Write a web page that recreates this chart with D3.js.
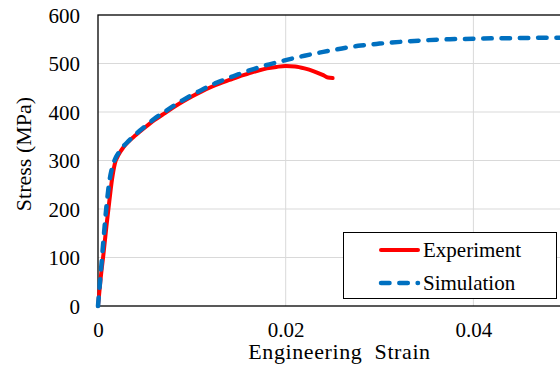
<!DOCTYPE html>
<html>
<head>
<meta charset="utf-8">
<script src="https://cdn.jsdelivr.net/npm/d3@7"></script>
<style>
  html, body { margin: 0; padding: 0; background: #fff; }
  svg { display: block; }
  svg text { font-family: "Liberation Serif", "Times New Roman", serif !important; fill: #000; }
</style>
</head>
<body>
<svg id="chart" width="560" height="369"></svg>
<script>
// Engineering stress–strain: tensile test vs. simulation
const experimentStrain = [0, 0.0003, 0.0006, 0.0009, 0.0012, 0.0015, 0.0018, 0.0022, 0.0027, 0.0033, 0.0040, 0.0050, 0.0060, 0.0070, 0.0080, 0.0090, 0.0100, 0.0110, 0.0120, 0.0130, 0.0140, 0.0150, 0.0160, 0.0170, 0.0180, 0.0190, 0.0200, 0.0210, 0.0220, 0.0230, 0.0240, 0.0245, 0.0250];
const experimentStress = [0, 60, 110, 165, 215, 262, 294, 312, 327, 340, 352, 368, 383, 396, 409, 421, 432, 442, 451, 459, 466, 473, 479, 485, 490, 493, 495, 494, 490, 484, 476, 471, 470];

const simulationStrain = [0, 0.0003, 0.0006, 0.0009, 0.0012, 0.0015, 0.0018, 0.0022, 0.0027, 0.0033, 0.0040, 0.0050, 0.0060, 0.0070, 0.0080, 0.0090, 0.0100, 0.0110, 0.0120, 0.0130, 0.0140, 0.0150, 0.0160, 0.0170, 0.0180, 0.0190, 0.0200, 0.0220, 0.0240, 0.0260, 0.0280, 0.0300, 0.0325, 0.0350, 0.0375, 0.0400, 0.0425, 0.0450, 0.0475, 0.0500];
const simulationStress = [0, 70, 140, 205, 255, 285, 302, 316, 329, 341, 354, 370, 386, 399, 412, 424, 435, 445, 455, 463, 471, 478, 485, 491, 497, 502, 507, 516, 524, 531, 537, 541, 545, 548, 550, 551, 552, 552.5, 553, 553];

const xTicks = [0, 0.02, 0.04];
const xTickLabels = ["0", "0.02", "0.04"];
const yTicks = [0, 100, 200, 300, 400, 500, 600];
const seriesNames = ["Experiment", "Simulation"];
const axisTitles = { x: "Engineering  Strain", y: "Stress (MPa)" };

const FONT = '"Liberation Serif", "Times New Roman", serif';
const svg = d3.select("#chart");
const margin = { left: 98, top: 15, bottom: 306 };
const pxPerUnit = 187.7 / 0.02;

const x = d3.scaleLinear().domain([0, 0.05]).range([margin.left, margin.left + 0.05 * pxPerUnit]);
const y = d3.scaleLinear().domain([0, 600]).range([margin.bottom, margin.top]);

// gridlines
svg.append("g").selectAll("line").data(yTicks.filter(d => d > 0 && d < 600)).join("line")
  .attr("x1", x(0)).attr("x2", x(0.05)).attr("y1", d => y(d)).attr("y2", d => y(d))
  .attr("stroke", "#d9d9d9").attr("stroke-width", 1);
svg.append("g").selectAll("line").data(xTicks.filter(d => d > 0)).join("line")
  .attr("x1", d => x(d)).attr("x2", d => x(d)).attr("y1", y(0)).attr("y2", y(600))
  .attr("stroke", "#d9d9d9").attr("stroke-width", 1);

// plot frame
svg.append("rect")
  .attr("x", x(0)).attr("y", y(600)).attr("width", x(0.05) - x(0)).attr("height", y(0) - y(600))
  .attr("fill", "none").attr("stroke", "#000").attr("stroke-width", 1.3);

// axes (labels only; the frame supplies the lines)
const yAxis = d3.axisLeft(y).tickValues(yTicks).tickSize(0).tickPadding(18);
const yg = svg.append("g").attr("transform", `translate(${x(0)},0)`).call(yAxis)
  .attr("font-family", null).attr("font-size", null);
yg.select(".domain").remove();
yg.selectAll("text").style("font-family", FONT).style("font-size", "21px").attr("dy", "0.35em");

const xAxis = d3.axisBottom(x).tickValues(xTicks).tickFormat((d, i) => xTickLabels[i]).tickSize(0).tickPadding(16);
const xg = svg.append("g").attr("transform", `translate(0,${y(0)})`).call(xAxis)
  .attr("font-family", null).attr("font-size", null);
xg.select(".domain").remove();
xg.selectAll("text").style("font-family", FONT).style("font-size", "21px");

// axis titles
svg.append("text")
  .attr("x", 339.5).attr("y", 359).attr("text-anchor", "middle")
  .style("font-family", FONT).style("font-size", "22px").style("letter-spacing", "0.6px")
  .style("white-space", "pre")
  .text(axisTitles.x);
svg.append("text")
  .attr("transform", "translate(31,154) rotate(-90)").attr("text-anchor", "middle")
  .style("font-family", FONT).style("font-size", "22px")
  .text(axisTitles.y);

const line = d3.line().x(d => x(d[0])).y(d => y(d[1])).curve(d3.curveMonotoneX);

const expData = experimentStrain.map((s, i) => [s, experimentStress[i]]);
const simData = simulationStrain.map((s, i) => [s, simulationStress[i]]);

svg.append("path").datum(expData).attr("d", line)
  .attr("fill", "none").attr("stroke", "#ff0000").attr("stroke-width", 4)
  .attr("stroke-linejoin", "round").attr("stroke-linecap", "round");
svg.append("path").datum(simData).attr("d", line)
  .attr("fill", "none").attr("stroke", "#0070c0").attr("stroke-width", 4.5)
  .attr("stroke-dasharray", "8.5,9.8").attr("stroke-linecap", "round");

// legend
const lg = svg.append("g");
lg.append("rect").attr("x", 343.5).attr("y", 232.5).attr("width", 213).attr("height", 66)
  .attr("fill", "#fff").attr("stroke", "#000").attr("stroke-width", 1);
const legendRows = [
  { name: seriesNames[0], color: "#ff0000", dash: null, w: 4 },
  { name: seriesNames[1], color: "#0070c0", dash: "8.5,9.8", w: 4.5 }
];
legendRows.forEach((r, i) => {
  const cy = 250 + i * 33;
  lg.append("line").attr("x1", 381).attr("x2", 418).attr("y1", cy).attr("y2", cy)
    .attr("stroke", r.color).attr("stroke-width", r.w).attr("stroke-linecap", "round")
    .attr("stroke-dasharray", r.dash);
  lg.append("text").attr("x", 423).attr("y", cy + 7)
    .style("font-family", FONT).style("font-size", "21px").text(r.name);
});
</script>
</body>
</html>
